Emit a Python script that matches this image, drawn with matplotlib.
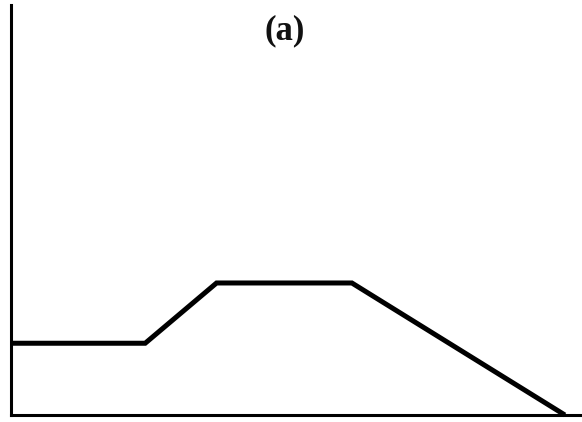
import matplotlib
matplotlib.use("Agg")
import matplotlib.pyplot as plt

# Piecewise profile: level, ramp up, plateau, ramp down to zero
x_vals = [0.0, 2.35, 3.6, 5.97, 9.7]
y_vals = [1.75, 1.75, 3.22, 3.22, 0.0]

fig = plt.figure(figsize=(5.82, 4.22), dpi=100)
ax = fig.add_axes([11 / 582, 7 / 422, 571 / 582, 410 / 422])

ax.plot(x_vals, y_vals, color="black", linewidth=3.6,
        solid_joinstyle="miter", solid_capstyle="butt", clip_on=False)

ax.set_xlim(0, 10)
ax.set_ylim(0, 10)
ax.set_xticks([])
ax.set_yticks([])
for side in ("top", "right"):
    ax.spines[side].set_visible(False)
for side in ("left", "bottom"):
    ax.spines[side].set_linewidth(2.2)
    ax.spines[side].set_color("black")

fig.text(285 / 582, 1 - 31 / 422, "(a)", ha="center", va="center",
         fontsize=25, family="Liberation Serif", fontweight="bold",
         color="#111111")

fig.savefig("out.png", dpi=100)
